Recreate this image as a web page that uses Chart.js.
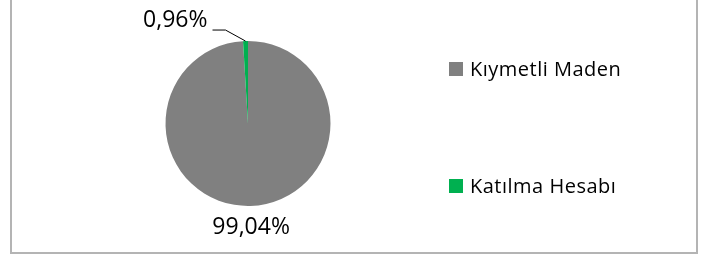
<!DOCTYPE html>
<html>
<head>
<meta charset="utf-8">
<script src="https://cdn.jsdelivr.net/npm/chart.js@4.4.1/dist/chart.umd.min.js"></script>
<style>
    html, body { margin: 0; padding: 0; background: #fff; }
    #wrap {
        position: absolute; left: 10px; top: -4px;
        width: 684px; height: 254px;
        border: 2px solid #b4b4b4;
    }
    canvas { position: absolute; left: 0; top: 0; }
</style>
</head>
<body>
<div id="wrap"></div>
<canvas id="pie" width="705" height="254"></canvas>
<script>
// Chart data
const categories = ['Kıymetli Maden', 'Katılma Hesabı'];
const shares = [99.04, 0.96];
const colors = ['#808080', '#00B050'];

const labelFont = '23px "Open Sans", sans-serif';
const legendFont = '20px "Open Sans", sans-serif';

function pct(v) {
    return v.toFixed(2).replace('.', ',') + '%';
}

// Data labels: outside end, small slice gets a leader line
const pieLabels = {
    id: 'pieLabels',
    afterDatasetsDraw(chart) {
        const ctx = chart.ctx;
        const arcs = chart.getDatasetMeta(0).data;
        ctx.save();
        ctx.font = labelFont;
        ctx.fillStyle = '#000';
        arcs.forEach((arc, i) => {
            const mid = (arc.startAngle + arc.endAngle) / 2;
            const r = arc.outerRadius;
            const text = pct(shares[i]);
            if (shares[i] > 5) {
                const d = r + 21;
                ctx.textAlign = 'center';
                ctx.textBaseline = 'middle';
                ctx.fillText(text, arc.x + Math.cos(mid) * d, arc.y + Math.sin(mid) * d + 1);
            } else {
                const px = arc.x + Math.cos(mid) * r;
                const py = arc.y + Math.sin(mid) * r;
                ctx.strokeStyle = '#000';
                ctx.lineWidth = 1;
                ctx.beginPath();
                ctx.moveTo(px, py);
                ctx.lineTo(px - 20, py - 11);
                ctx.lineTo(px - 33, py - 11);
                ctx.stroke();
                ctx.textAlign = 'right';
                ctx.textBaseline = 'middle';
                ctx.fillText(text, px - 38, py - 21);
            }
        });
        ctx.restore();
    }
};

// Legend drawn to the right, spread like the original
const sideLegend = {
    id: 'sideLegend',
    afterDraw(chart) {
        const ctx = chart.ctx;
        const baselines = [76, 193];
        ctx.save();
        ctx.font = legendFont;
        ctx.letterSpacing = '0.5px';
        ctx.textAlign = 'left';
        ctx.textBaseline = 'alphabetic';
        categories.forEach((name, i) => {
            ctx.fillStyle = colors[i];
            ctx.fillRect(449, baselines[i] - 14, 14, 14);
            ctx.fillStyle = '#000';
            ctx.fillText(name, 470, baselines[i]);
        });
        ctx.restore();
    }
};

new Chart(document.getElementById('pie'), {
    type: 'pie',
    data: {
        labels: categories,
        datasets: [{
            data: shares,
            backgroundColor: colors,
            borderWidth: 0
        }]
    },
    options: {
        responsive: false,
        animation: false,
        layout: {
            padding: { left: 165, right: 374, top: 41, bottom: 48 }
        },
        plugins: {
            legend: { display: false },
            tooltip: { enabled: false }
        }
    },
    plugins: [pieLabels, sideLegend]
});
</script>
</body>
</html>
